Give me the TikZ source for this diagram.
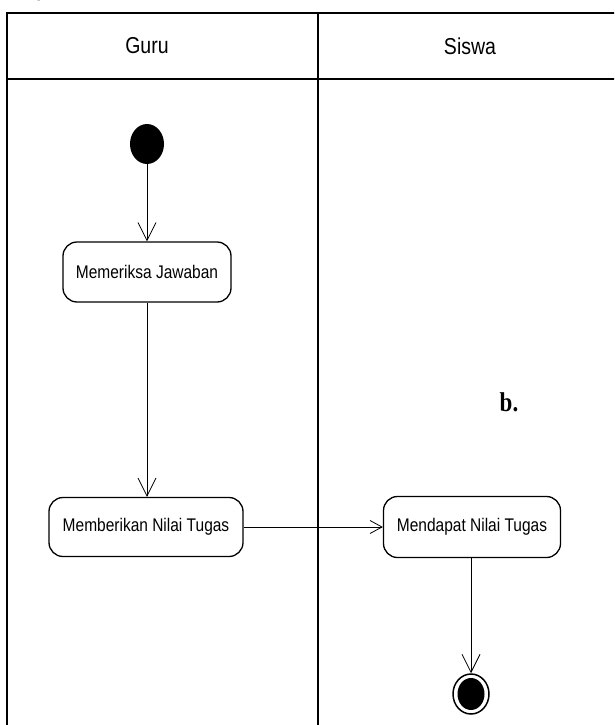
\documentclass[tikz,border=0pt]{standalone}
\usepackage{fontspec}
\usepackage{graphicx}
\setmainfont{Liberation Serif}
\newfontfamily\lanefont{Liberation Sans}
\usetikzlibrary{arrows.meta,shapes.geometric}
% text in this chart is set slightly taller than wide
\newcommand{\talltext}[1]{\scalebox{1}[1.18]{#1}}
\tikzset{
  lane/.style={line width=2pt, line cap=rect},
  header/.style={font=\lanefont\fontsize{19.5}{20}\selectfont},
  activity/.style={draw, line width=1.3pt, rounded corners=14pt, inner sep=0pt,
    font=\lanefont\fontsize{15.5}{16}\selectfont},
  flow/.style={line width=0.8pt, -{Straight Barb[length=18pt,width=18pt,line width=0.8pt]}},
  flowh/.style={line width=0.8pt, -{Straight Barb[length=12pt,width=13pt,line width=0.8pt]}},
  initial/.style={ellipse, fill=black, inner sep=0pt, minimum width=34pt, minimum height=40pt},
  final/.style={ellipse, draw, line width=1.5pt, inner sep=0pt, minimum width=36pt, minimum height=40pt},
}
\begin{document}
\begin{tikzpicture}[x=1pt, y=-1pt]
  \useasboundingbox (0,0) rectangle (614,725);
  \clip (0,0) rectangle (614,725);

  % descender of the line of text above the chart
  \node[font=\fontsize{20}{20}\selectfont, anchor=base] (tail) at (42,-3) {y};

  % swimlane frame
  \draw[lane] (7,13) -- (620,13);
  \draw[lane] (7,79) -- (620,79);
  \draw[lane] (7,13) -- (7,730);
  \draw[lane] (318,13) -- (318,730);

  \node[header] (guru) at (147,46) {\talltext{Guru}};
  \node[header] (siswa) at (470,46) {\talltext{Siswa}};

  % activities
  \node[initial] (start) at (147,144) {};
  \node[activity, minimum width=168pt, minimum height=60pt] (periksa) at (147,272) {\talltext{Memeriksa Jawaban}};
  \node[activity, minimum width=194pt, minimum height=59pt] (nilai) at (146,527) {\talltext{Memberikan Nilai Tugas}};
  \node[activity, minimum width=177pt, minimum height=61pt] (dapat) at (472,527) {\talltext{Mendapat Nilai Tugas}};
  \node[final] (end) at (471,694) {};
  \fill (end.center) ellipse (13.5pt and 16pt);

  \node[font=\fontsize{23}{23}\selectfont\bfseries] (label) at (509,402) {\talltext{b.}};

  % control flow
  \draw[flow] (start) -- (periksa);
  \draw[flow] (periksa.south) -- (nilai.north -| periksa.south);
  \draw[flowh] (nilai) -- (dapat);
  \draw[flow] (dapat.south -| end.north) -- (end);
\end{tikzpicture}
\end{document}
